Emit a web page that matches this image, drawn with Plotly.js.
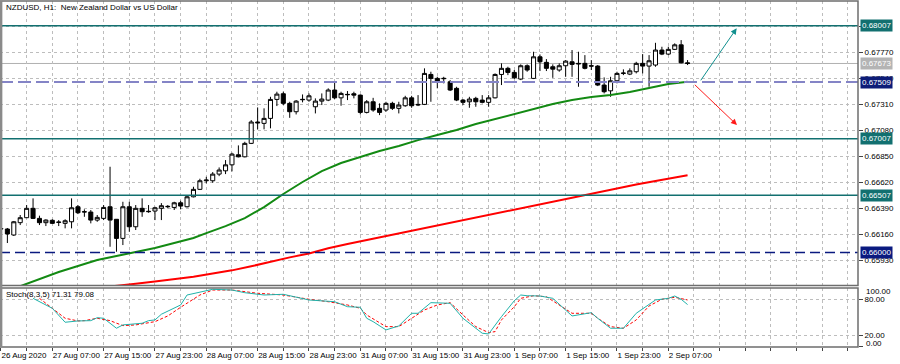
<!DOCTYPE html>
<html><head><meta charset="utf-8">
<script src="https://cdn.plot.ly/plotly-3.0.1.min.js"></script>
<style>html,body{margin:0;padding:0;background:#fff}#chart{width:900px;height:364px}</style>
</head><body><div id="chart"></div>
<script>
// ---- Candles (H1 bars, index 0 = 26 Aug 23:00) ----
const openP = [0.66208,0.66208,0.66155,0.66264,0.66308,0.66391,0.66302,0.66264,0.66285,0.66270,
0.66258,0.66272,0.66405,0.66358,0.66358,0.66287,0.66302,0.66405,0.66294,0.66125,
0.66405,0.66228,0.66391,0.66361,0.66367,0.66391,0.66405,0.66399,0.66440,0.66405,
0.66493,0.66559,0.66635,0.66635,0.66694,0.66723,0.66776,0.66865,0.66847,0.66966,
0.67155,0.67143,0.67187,0.67355,0.67405,0.67320,0.67246,0.67352,0.67349,0.67290,
0.67340,0.67349,0.67438,0.67369,0.67396,0.67405,0.67393,0.67240,0.67334,0.67276,
0.67261,0.67320,0.67276,0.67299,0.67369,0.67311,0.67311,0.67576,0.67541,0.67538,
0.67511,0.67453,0.67349,0.67334,0.67364,0.67349,0.67329,0.67369,0.67576,0.67630,
0.67594,0.67535,0.67653,0.67541,0.67732,0.67683,0.67644,0.67615,0.67653,0.67688,
0.67674,0.67674,0.67653,0.67650,0.67482,0.67431,0.67520,0.67585,0.67579,0.67600,
0.67674,0.67650,0.67659,0.67792,0.67756,0.67798,0.67838,0.67679];
const highP = [0.66225,0.66217,0.66279,0.66332,0.66420,0.66479,0.66326,0.66294,0.66294,0.66287,
0.66294,0.66479,0.66420,0.66382,0.66376,0.66332,0.66420,0.66759,0.66296,0.66449,
0.66449,0.66420,0.66479,0.66420,0.66405,0.66437,0.66420,0.66449,0.66458,0.66508,
0.66582,0.66653,0.66670,0.66712,0.66753,0.66818,0.66883,0.66948,0.66980,0.67172,
0.67284,0.67276,0.67378,0.67423,0.67423,0.67334,0.67349,0.67399,0.67408,0.67364,
0.67408,0.67453,0.67511,0.67423,0.67429,0.67423,0.67399,0.67349,0.67369,0.67320,
0.67334,0.67334,0.67334,0.67387,0.67387,0.67393,0.67630,0.67600,0.67555,0.67555,
0.67526,0.67467,0.67358,0.67378,0.67378,0.67393,0.67393,0.67585,0.67674,0.67644,
0.67615,0.67665,0.67665,0.67777,0.67753,0.67712,0.67665,0.67674,0.67703,0.67792,
0.67777,0.67747,0.67703,0.67659,0.67550,0.67555,0.67600,0.67621,0.67630,0.67688,
0.67756,0.67747,0.67856,0.67821,0.67821,0.67851,0.67880,0.67703];
const lowP = [0.66199,0.66084,0.66146,0.66243,0.66305,0.66296,0.66243,0.66234,0.66252,0.66234,
0.66214,0.66214,0.66340,0.66316,0.66258,0.66272,0.66287,0.66051,0.66007,0.66066,
0.66184,0.66199,0.66316,0.66352,0.66287,0.66287,0.66391,0.66376,0.66382,0.66399,
0.66488,0.66553,0.66612,0.66617,0.66676,0.66694,0.66718,0.66842,0.66842,0.66960,
0.67090,0.67090,0.67099,0.67296,0.67305,0.67192,0.67222,0.67329,0.67334,0.67231,
0.67305,0.67340,0.67358,0.67299,0.67349,0.67364,0.67222,0.67231,0.67246,0.67216,
0.67246,0.67261,0.67231,0.67290,0.67281,0.67296,0.67305,0.67334,0.67453,0.67497,
0.67429,0.67340,0.67305,0.67281,0.67290,0.67320,0.67290,0.67364,0.67482,0.67570,
0.67535,0.67526,0.67600,0.67535,0.67606,0.67606,0.67546,0.67600,0.67555,0.67555,
0.67467,0.67621,0.67615,0.67473,0.67408,0.67378,0.67497,0.67570,0.67570,0.67585,
0.67585,0.67467,0.67644,0.67747,0.67747,0.67792,0.67674,0.67659];
const closeP = [0.66212,0.66164,0.66272,0.66308,0.66391,0.66302,0.66264,0.66287,0.66258,0.66267,
0.66281,0.66396,0.66352,0.66361,0.66287,0.66311,0.66399,0.66287,0.66125,0.66405,
0.66228,0.66391,0.66361,0.66364,0.66396,0.66414,0.66408,0.66440,0.66411,0.66493,
0.66559,0.66635,0.66641,0.66694,0.66730,0.66776,0.66871,0.66847,0.66966,0.67155,
0.67148,0.67187,0.67355,0.67402,0.67320,0.67246,0.67340,0.67355,0.67387,0.67340,
0.67358,0.67438,0.67369,0.67408,0.67399,0.67393,0.67240,0.67334,0.67261,0.67240,
0.67320,0.67276,0.67305,0.67369,0.67299,0.67307,0.67585,0.67541,0.67517,0.67541,
0.67438,0.67349,0.67329,0.67358,0.67334,0.67329,0.67369,0.67576,0.67630,0.67594,
0.67546,0.67653,0.67615,0.67732,0.67688,0.67630,0.67623,0.67653,0.67694,0.67665,
0.67670,0.67630,0.67650,0.67482,0.67423,0.67520,0.67585,0.67588,0.67608,0.67674,
0.67650,0.67697,0.67792,0.67756,0.67798,0.67838,0.67679,0.67673];

// ---- Moving averages (bar index, price) ----
const greenIdx = [2,6,9,12,15,18,21,24,27,30,32,35,38,41,44,47,50,53,56,59,62,65,68,71,74,77,80,83,86,89,92,95,98,101,104,107];
const greenVal = [0.65681,0.65765,0.65827,0.65880,0.65933,0.65969,0.66004,0.66040,0.66084,0.66128,0.66172,0.66234,0.66305,0.66402,0.66518,0.66624,0.66721,0.66792,0.66845,0.66898,0.66942,0.66995,0.67040,0.67084,0.67137,0.67181,0.67226,0.67270,0.67314,0.67349,0.67376,0.67394,0.67420,0.67456,0.67491,0.67511];
const redIdx = [14,18,21,24,27,30,33,36,39,42,45,48,51,54,57,60,63,66,69,72,75,78,81,84,87,90,93,96,99,102,105,107];
const redVal = [0.65681,0.65703,0.65723,0.65743,0.65763,0.65786,0.65814,0.65842,0.65878,0.65920,0.65957,0.65991,0.66038,0.66075,0.66110,0.66146,0.66181,0.66217,0.66252,0.66287,0.66323,0.66358,0.66394,0.66429,0.66464,0.66500,0.66535,0.66571,0.66602,0.66633,0.66664,0.66683];

// ---- Stochastic (8,3,5) ----
const kIdx = [5,8,10,12,14,15,16,18,19,22,23,24,25,28,29,32,33,36,38,41,44,48,52,54,56,57,58,60,62,64,65,67,69,70,72,75,76,78,80,81,82,84,86,89,92,93,95,97,99,102,104,105,106,107];
const kVal = [81.8,65.0,41.5,43.7,44.2,49.2,48.2,31.4,37.0,39.8,44.2,45.4,55.0,70.6,87.4,94.1,97.0,95.8,91.3,87.4,88.6,79.0,76.1,67.7,66.7,48.2,42.5,28.6,35.3,56.6,56.6,74.5,74.5,73.4,48.2,23.0,21.8,50.9,77.8,87.4,86.2,85.7,81.8,52.1,57.6,48.2,31.4,31.4,56.6,79.0,81.8,85.7,80.2,71.31];
const dIdx = [6,10,12,13,15,17,19,21,24,26,28,31,33,36,40,44,48,51,54,56,57,60,62,64,66,68,70,72,74,76,77,78,80,81,83,85,87,89,92,93,95,97,99,101,103,105,107];
const dVal = [81.8,48.2,43.7,44.2,48.2,44.2,35.8,37.0,42.5,52.1,66.7,87.4,95.8,95.8,90.3,87.4,80.2,76.1,70.6,65.0,53.8,34.1,34.1,48.2,62.2,70.6,74.5,53.8,34.1,24.0,25.7,45.4,67.7,81.8,86.2,84.5,70.6,56.6,56.6,48.2,34.1,31.4,45.4,68.9,80.2,83.5,79.08];

// ---- Axis ticks ----
const priceTicks = [0.65930,0.66160,0.66390,0.66620,0.66850,0.67080,0.67310,0.67540,0.67770,0.68000];
const stochTicks = [0,20,80,100];
const timeLabels = ["26 Aug 2020","27 Aug 07:00","27 Aug 15:00","27 Aug 23:00","28 Aug 07:00","28 Aug 15:00","28 Aug 23:00","31 Aug 07:00","31 Aug 15:00","31 Aug 23:00","1 Sep 07:00","1 Sep 15:00","1 Sep 23:00","2 Sep 07:00"];

// ---- Drawn objects ----
const levelVals = [0.68007,0.67509,0.67007,0.66507,0.66000];
const bidPrice = 0.67673;
const arrowTailX = [108.9,107.9], arrowTailY = [0.67511,0.67497];
const arrowHeadX = [114.65,114.7], arrowHeadY = [0.67984,0.67128];

// ---------------- build ----------------
const barIdx = openP.map((_, i) => i);
const FONT = 'Liberation Sans, Arial, sans-serif';
const H = 364, T = 1, B = 17;
const plotH = H - T - B;
const py = p => (H - B - p) / plotH;       // pixel row -> paper y
const mainDom = [py(285.5), 1];
const stochDom = [0, py(288)];

const traces = [
  {type:'candlestick', x:barIdx, open:openP, high:highP, low:lowP, close:closeP,
   xaxis:'x', yaxis:'y', hoverinfo:'skip', showlegend:false, whiskerwidth:0,
   increasing:{line:{color:'#000000', width:1}, fillcolor:'#ffffff'},
   decreasing:{line:{color:'#000000', width:1}, fillcolor:'#000000'}},
  {type:'scatter', mode:'lines', x:redIdx, y:redVal, xaxis:'x', yaxis:'y',
   line:{color:'#ff0000', width:2}, hoverinfo:'skip', showlegend:false},
  {type:'scatter', mode:'lines', x:greenIdx, y:greenVal, xaxis:'x', yaxis:'y',
   line:{color:'#138a13', width:2}, hoverinfo:'skip', showlegend:false},
  {type:'scatter', mode:'lines', x:dIdx, y:dVal, xaxis:'x', yaxis:'y2',
   line:{color:'#ff0000', width:1, dash:'3px,2px'}, hoverinfo:'skip', showlegend:false},
  {type:'scatter', mode:'lines', x:kIdx, y:kVal, xaxis:'x', yaxis:'y2',
   line:{color:'#20b2aa', width:1}, hoverinfo:'skip', showlegend:false}
];

const xTickVals = [], xTickText = [];
for (let i = 0; i <= 132; i += 4) {
  xTickVals.push(i);
  const k = i / 8;
  xTickText.push(i % 8 === 0 && k < timeLabels.length ? timeLabels[k] : '');
}

const levelStyle = [
  {color:'#127070', width:1.6, dash:'solid', bg:'#127070'},
  {color:'#8484c6', width:2.2, dash:'13px,5px', bg:'#0d1c78'},
  {color:'#127070', width:1.6, dash:'solid', bg:'#127070'},
  {color:'#127070', width:1.6, dash:'solid', bg:'#127070'},
  {color:'#0a1a80', width:1.4, dash:'10px,5px', bg:'#0a1a80'}
];

const shapes = [];
shapes.push({type:'line', xref:'paper', x0:0, x1:1, yref:'y', y0:bidPrice, y1:bidPrice,
  line:{color:'#b0b0b0', width:1}, layer:'below'});
levelVals.forEach((v, j) => {
  shapes.push({type:'line', xref:'paper', x0:0, x1:1, yref:'y', y0:v, y1:v,
    line:{color:levelStyle[j].color, width:levelStyle[j].width, dash:levelStyle[j].dash}});
});
const frameCol = '#6e6e6e';
shapes.push({type:'rect', xref:'paper', yref:'paper', x0:0, x1:1, y0:mainDom[0], y1:1,
  line:{color:frameCol, width:1.5}, fillcolor:'rgba(0,0,0,0)'});
shapes.push({type:'rect', xref:'paper', yref:'paper', x0:0, x1:1, y0:0, y1:stochDom[1],
  line:{color:frameCol, width:1.5}, fillcolor:'rgba(0,0,0,0)'});
shapes.push({type:'line', xref:'paper', yref:'paper', x0:0.001, x1:0.001, y0:0, y1:1,
  line:{color:'#8a8a8a', width:3}});

const annotations = [];
const lblFont = {family:FONT, size:8, color:'#ffffff'};
levelVals.forEach((v, j) => {
  annotations.push({xref:'paper', x:1, xanchor:'left', xshift:2, yref:'y', y:v, yanchor:'middle',
    text:v.toFixed(5), showarrow:false, bgcolor:levelStyle[j].bg, font:lblFont, borderpad:1});
});
annotations.push({xref:'paper', x:1, xanchor:'left', xshift:2, yref:'y', y:bidPrice, yanchor:'middle',
  text:bidPrice.toFixed(5), showarrow:false, bgcolor:'#b4b4b4', font:lblFont, borderpad:1});
annotations.push({xref:'paper', x:0, xanchor:'left', xshift:4, yref:'paper', y:py(7), yanchor:'middle',
  text:'NZDUSD, H1:  New Zealand Dollar vs US Dollar', showarrow:false,
  font:{family:FONT, size:8, color:'#000000'}});
annotations.push({xref:'paper', x:0, xanchor:'left', xshift:4, yref:'paper', y:py(294), yanchor:'middle',
  text:'Stoch(8,3,5) ' + kVal[kVal.length-1].toFixed(2) + ' ' + dVal[dVal.length-1].toFixed(2), showarrow:false,
  font:{family:FONT, size:8, color:'#000000'}});
annotations.push({xref:'paper', x:1, xanchor:'left', xshift:6, yref:'paper', y:py(291.5), yanchor:'middle',
  text:stochTicks[3].toFixed(2), showarrow:false, font:{family:FONT, size:8, color:'#000000'}});
annotations.push({xref:'paper', x:1, xanchor:'left', xshift:6, yref:'paper', y:py(343), yanchor:'middle',
  text:stochTicks[0].toFixed(2), showarrow:false, font:{family:FONT, size:8, color:'#000000'}});
const arrowCols = ['#11908f', '#ff1a1a'];
for (let j = 0; j < 2; j++) {
  annotations.push({xref:'x', yref:'y', axref:'x', ayref:'y', x:arrowHeadX[j], y:arrowHeadY[j],
    ax:arrowTailX[j], ay:arrowTailY[j], text:'', showarrow:true, arrowhead:2, arrowsize:1.2,
    arrowwidth:1, arrowcolor:arrowCols[j], standoff:0, startstandoff:0});
}

// the 0.68000 grid label sits under the 0.68007 level tag in the reference
const hiddenTick = levelVals[0];
const priceText = priceTicks.map(v => Math.abs(v - hiddenTick) < 0.0001 ? '' : v.toFixed(5));

const gridCol = '#bdbdbd';
const layout = {
  width:900, height:364, margin:{l:0, r:42, t:T, b:B, pad:0},
  paper_bgcolor:'#ffffff', plot_bgcolor:'#ffffff', showlegend:false,
  boxgap:0.3, boxgroupgap:0.1,
  font:{family:FONT, size:8, color:'#000000'},
  xaxis:{domain:[0,1], anchor:'y2', range:[-0.15, 133.56], tickmode:'array',
    tickvals:xTickVals, ticktext:xTickText, tickangle:0, ticks:'outside', ticklen:3, tickcolor:'#444',
    ticklabelposition:'outside right', showgrid:true, gridcolor:gridCol, griddash:'3px,3px',
    gridwidth:1, zeroline:false, showline:false, rangeslider:{visible:false}, automargin:false,
    tickfont:{family:FONT, size:8, color:'#000'}, fixedrange:true},
  yaxis:{domain:mainDom, anchor:'x', side:'right', range:[0.65708, 0.68226], tickmode:'array',
    tickvals:priceTicks, ticktext:priceText, ticks:'outside', ticklen:4,
    tickcolor:'#444', showgrid:true, gridcolor:gridCol, griddash:'3px,3px', zeroline:false, automargin:false,
    showline:false, tickfont:{family:FONT, size:8, color:'#000'}, fixedrange:true},
  yaxis2:{domain:stochDom, anchor:'x', side:'right', range:[-0.2, 99.2], tickmode:'array',
    tickvals:stochTicks, ticktext:stochTicks.map(v => (v === 20 || v === 80) ? v.toFixed(2) : ''),
    ticks:'outside', ticklen:4, tickcolor:'#444', showgrid:true, gridcolor:gridCol, griddash:'3px,3px',
    zeroline:false, showline:false, automargin:false, tickfont:{family:FONT, size:8, color:'#000'}, fixedrange:true},
  shapes:shapes, annotations:annotations
};

Plotly.newPlot('chart', traces, layout, {staticPlot:true, displayModeBar:false});
</script>
</body></html>
